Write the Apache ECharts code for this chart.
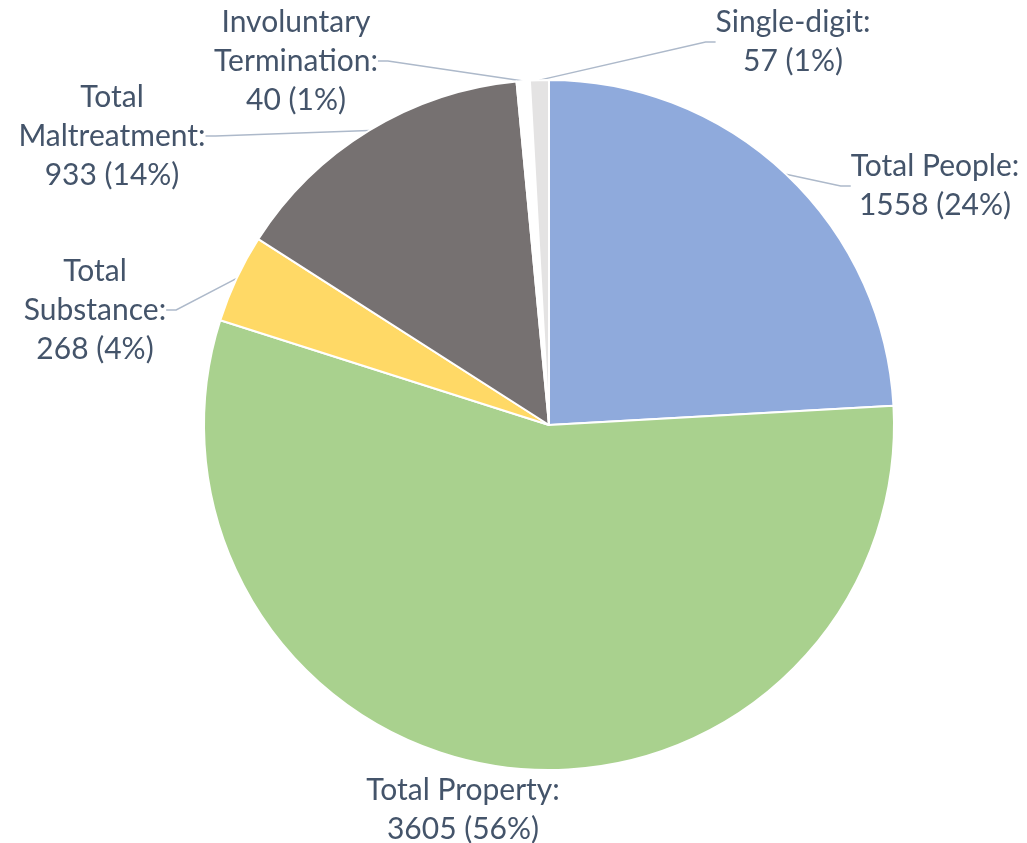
<!DOCTYPE html>
<html>
<head>
<meta charset="utf-8">
<script src="https://cdn.jsdelivr.net/npm/echarts@6/dist/echarts.min.js"></script>
<style>
  html, body { margin: 0; padding: 0; background: #fff; }
  #main { width: 1027px; height: 843px; }
</style>
</head>
<body>
<div id="main"></div>
<script>
var myChart = echarts.init(document.getElementById('main'));

// categories, values and colours, clockwise from 12 o'clock
var categories = ['Total People', 'Total Property', 'Total Substance', 'Total Maltreatment', 'Involuntary Termination', 'Single-digit'];
var labelNames = ['Total People:', 'Total Property:', 'Total\nSubstance:', 'Total\nMaltreatment:', 'Involuntary\nTermination:', 'Single-digit:'];
var values = [1558, 3605, 268, 933, 40, 57];
var colors = ['#8FAADC', '#A9D18E', '#FFD966', '#767171', '#FFFFFF', '#E4E3E3'];

// where each label block is centred
var labelPos = [[935, 186], [463, 810], [95, 310], [112, 136], [296, 61], [793, 42]];

var option = {
  animation: false,
  series: [{
    type: 'pie',
    center: [549, 425],
    radius: ['0%', 345],
    startAngle: 90,
    clockwise: true,
    percentPrecision: 0,
    avoidLabelOverlap: false,
    itemStyle: { borderColor: '#fff', borderWidth: 2 },
    label: {
      show: true,
      position: 'outside',
      fontFamily: 'Lato',
      fontSize: 30,
      lineHeight: 39,
      color: '#44546A',
      align: 'center',
      formatter: function (p) {
        return labelNames[p.dataIndex] + '\n' + p.value + ' (' + p.percent + '%)';
      }
    },
    labelLine: {
      show: true,
      length: 20,
      length2: 10,
      smooth: false,
      lineStyle: { color: '#ADB9CA', width: 1.5 }
    },
    labelLayout: function (p) {
      var pos = labelPos[p.dataIndex];
      return { x: pos[0], y: pos[1], align: 'center', verticalAlign: 'middle' };
    },
    data: categories.map(function (c, i) {
      var d = { name: c, value: values[i], itemStyle: { color: colors[i] } };
      if (c === 'Total Property') d.labelLine = { show: false };
      return d;
    })
  }]
};
myChart.setOption(option);
</script>
</body>
</html>
